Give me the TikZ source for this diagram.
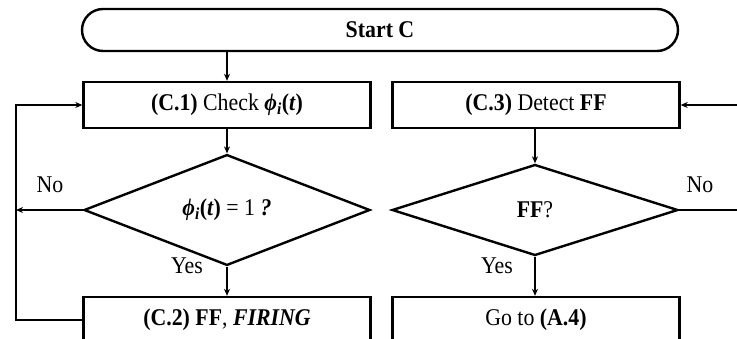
\documentclass[tikz,border=0pt]{standalone}
\usepackage{fontspec}
\setmainfont[FakeStretch=0.91]{Liberation Serif}
\usetikzlibrary{shapes.geometric,arrows.meta}
\tikzset{
  boxstyle/.style={draw, line width=2.4pt, minimum width=287pt, minimum height=46pt, inner sep=0pt},
  startstyle/.style={draw, line width=2.4pt, rounded corners=21pt, minimum width=596pt, minimum height=42pt, inner sep=0pt},
  decstyle/.style={draw, diamond, line width=2.4pt, minimum width=286pt, minimum height=91pt, inner sep=0pt},
  conn/.style={line width=1.1pt},
  arr/.style={conn, -{Stealth[length=7pt,width=6pt]}},
  lbl/.style={inner sep=0pt}
}
\begin{document}
\begin{tikzpicture}[x=1pt,y=-1pt, font=\fontsize{24}{28}\selectfont]
\useasboundingbox (0,0) rectangle (737,338);
\clip (0,0) rectangle (737,338);
\node[startstyle] (start) at (380,30) {\textbf{Start C}};
\node[boxstyle] (c1) at (227,105) {\textbf{(C.1)} Check \textbf{\textit{ϕ\textsubscript{i}}(\textit{t})}};
\node[boxstyle] (c3) at (536,105) {\textbf{(C.3)} Detect \textbf{FF}};
\node[decstyle] (d1) at (227,210) {\textbf{\textit{ϕ\textsubscript{i}}(\textit{t})} = 1 \textbf{\textit{?}}};
\node[decstyle] (d2) at (535,210) {\textbf{FF}?};
\node[boxstyle] (c2) at (227,320) {\textbf{(C.2) FF}, \textbf{\textit{FIRING}}};
\node[boxstyle] (go) at (536,320) {Go to \textbf{(A.4)}};
\coordinate (lx) at (16,0);
\coordinate (rx) at (737,0);
\node[lbl] (no1) at (50,185) {No};
\node[lbl] (no2) at (700,185) {No};
\node[lbl] (yes1) at (187,266) {Yes};
\node[lbl] (yes2) at (497,266) {Yes};
\draw[arr] (start.south -| c1.north) -- (c1.north);
\draw[arr] (c1.south) -- (d1.north);
\draw[arr] (d1.south) -- (c2.north);
\draw[arr] (d2.north |- c3.south) -- (d2.north);
\draw[arr] (d2.south) -- (d2.south |- go.north);
\draw[arr] (c2.west) -- (c2.west -| lx) |- (c1.west);
\draw[arr] (d1.west) -- (d1.west -| lx);
\draw[conn] (d2.east) -- (d2.east -| rx);
\draw[arr] (c3.east -| rx) -- (c3.east);
\end{tikzpicture}
\end{document}
